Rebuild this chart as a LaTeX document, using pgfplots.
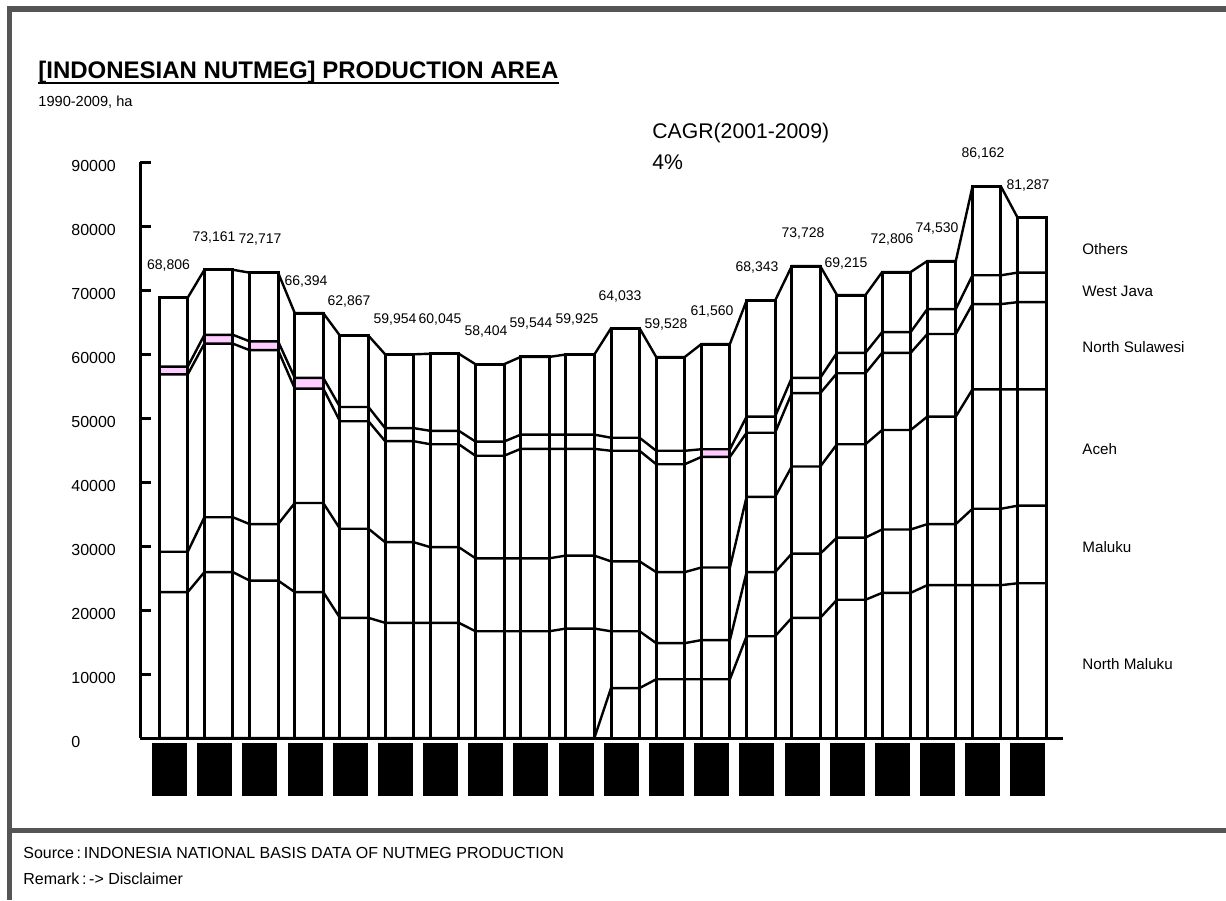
\documentclass[border=0pt]{standalone}
\usepackage{fontspec}
\setmainfont{Liberation Sans}
\usepackage{pgfplots}
\usepackage{pgfplotstable}
\pgfplotsset{compat=1.18}
\definecolor{framegray}{RGB}{85,85,85}
\definecolor{pinkc}{RGB}{255,204,255}

% segment values (ha) per region, each year given twice (left / right edge of its bar)
\pgfplotstableread{
i  s  nm    mal   ace   nsu   wj   oth   pk
0  -1 0     22800 6300  27720 1200 10786 1
0  1  0     22800 6300  27720 1200 10786 1
1  -1 0     25920 8580  27120 1380 10161 1
1  1  0     25920 8580  27120 1380 10161 1
2  -1 0     24600 8820  27180 1380 10737 1
2  1  0     24600 8820  27180 1380 10737 1
3  -1 0     22800 13920 17880 1680 10114 1
3  1  0     22800 13920 17880 1680 10114 1
4  -1 0     18780 13920 16800 2220 11147 0
4  1  0     18780 13920 16800 2220 11147 0
5  -1 0     18000 12600 15780 2040 11534 0
5  1  0     18000 12600 15780 2040 11534 0
6  -1 0     18000 11820 16080 2100 12045 0
6  1  0     18000 11820 16080 2100 12045 0
7  -1 0     16680 11400 16020 2220 12084 0
7  1  0     16680 11400 16020 2220 12084 0
8  -1 0     16680 11400 17100 2220 12144 0
8  1  0     16680 11400 17100 2220 12144 0
9  -1 0     17100 11400 16680 2220 12525 0
9  1  0     17100 11400 16680 2220 12525 0
10 -1 7800  8880  10920 17280 2040 17113 0
10 1  7800  8880  10920 17280 2040 17113 0
11 -1 9180  5640  11100 16860 2100 14648 0
11 1  9180  5640  11100 16860 2100 14648 0
12 -1 9180  6120  11340 17280 1200 16440 1
12 1  9180  6120  11340 17280 1200 16440 1
13 -1 15900 10020 11760 10020 2520 18123 0
13 1  15900 10020 11760 10020 2520 18123 0
14 -1 18780 10020 13620 11460 2400 17448 0
14 1  18780 10020 13620 11460 2400 17448 0
15 -1 21600 9720  14580 11100 3180 9035  0
15 1  21600 9720  14580 11100 3180 9035  0
16 -1 22680 9900  15540 12060 3240 9386  0
16 1  22680 9900  15540 12060 3240 9386  0
17 -1 23880 9540  16800 12900 3900 7510  0
17 1  23880 9540  16800 12900 3900 7510  0
18 -1 23880 11940 18660 13320 4500 13862 0
18 1  23880 11940 18660 13320 4500 13862 0
19 -1 24180 12120 18180 13620 4620 8567  0
19 1  24180 12120 18180 13620 4620 8567  0
}\data

\begin{document}
\begin{tikzpicture}
\path[use as bounding box] (0,0) rectangle (613pt,-450pt);
\begin{scope}[x=0.5pt,y=-0.5pt]
  % frame
  \fill[framegray] (7,6) rectangle (1226,12);
  \fill[framegray] (7,6) rectangle (12,900);
  \fill[framegray] (7,828) rectangle (1226,833);
  % title
  \node[anchor=base west, inner sep=0pt, font=\fontsize{12}{14}\selectfont\bfseries] (T) at (38,78) {[INDONESIAN NUTMEG] PRODUCTION AREA};
  \draw[line width=1pt] ([yshift=-2.6pt]T.base west) -- ([yshift=-2.6pt]T.base east);
  \node[anchor=west, inner sep=0pt, font=\fontsize{7.3}{9}\selectfont] at (38,102) {1990-2009, ha};
  % CAGR
  \node[anchor=west, inner sep=0pt, font=\fontsize{10.6}{12}\selectfont] at (652,133) {CAGR(2001-2009)};
  \node[anchor=west, inner sep=0pt, font=\fontsize{10.6}{12}\selectfont] at (652,162) {4\%};
  % series names
  \begin{scope}[every node/.style={anchor=west, inner sep=0pt, font=\fontsize{7.6}{9}\selectfont}]
    \node at (1082,249) {Others};
    \node at (1082,291) {West Java};
    \node at (1082,347) {North Sulawesi};
    \node at (1082,449) {Aceh};
    \node at (1082,547) {Maluku};
    \node at (1082,664) {North Maluku};
  \end{scope}
  % source
  \node[anchor=west, inner sep=0pt, font=\fontsize{8}{9.6}\selectfont] at (23,853) {Source\,:\,INDONESIA NATIONAL BASIS DATA OF NUTMEG PRODUCTION};
  \node[anchor=west, inner sep=0pt, font=\fontsize{8}{9.6}\selectfont] at (23,879) {Remark\,:\,-> Disclaimer};
\end{scope}

\begin{axis}[
  at={(70pt,-369pt)}, anchor=south west,
  scale only axis, width=461.5pt, height=288pt,
  xmin=-0.741, xmax=19.688, ymin=0, ymax=90000,
  clip=false,
  axis x line*=bottom, axis y line*=left,
  axis line style={line width=1.5pt, black},
  tick align=inside, major tick length=5.5pt,
  xtick={0,...,19},
  xticklabel={\rule{17.5pt}{26.5pt}},
  xtick style={draw=none},
  xticklabel style={anchor=north, inner sep=0pt, yshift=-2.5pt, xshift=-2pt},
  ytick={0,10000,...,90000},
  ytick style={line width=1.5pt, black},
  scaled y ticks=false,
  /pgf/number format/1000 sep={},
  /pgf/number format/assume math mode=true,
  yticklabel style={font=\fontsize{8}{9.6}\selectfont, anchor=west, inner sep=0pt, xshift=-34.5pt, yshift=-2pt},
]
% pink band (West Java in flagged years)
\addplot[ybar, bar width=0.631, bar shift=0pt, fill=pinkc, draw=none]
  table[x=i, y expr=\thisrow{pk}*(\thisrow{nm}+\thisrow{mal}+\thisrow{ace}+\thisrow{nsu}+\thisrow{wj})] {\data};
\addplot[ybar, bar width=0.631, bar shift=0pt, fill=white, draw=none]
  table[x=i, y expr=\thisrow{pk}*(\thisrow{nm}+\thisrow{mal}+\thisrow{ace}+\thisrow{nsu})] {\data};
% bar outlines (totals)
\addplot[ybar, bar width=0.631, bar shift=0pt, fill=none, draw=black, line width=1.5pt]
  table[x=i, y expr=\thisrow{nm}+\thisrow{mal}+\thisrow{ace}+\thisrow{nsu}+\thisrow{wj}+\thisrow{oth}] {\data};
% series lines (cumulative boundaries)
\addplot[black, line width=1.2pt, mark=none]
  table[x expr=\thisrow{i}+0.3155*\thisrow{s}, y expr=\thisrow{nm}] {\data};
\addplot[black, line width=1.2pt, mark=none]
  table[x expr=\thisrow{i}+0.3155*\thisrow{s}, y expr=\thisrow{nm}+\thisrow{mal}] {\data};
\addplot[black, line width=1.2pt, mark=none]
  table[x expr=\thisrow{i}+0.3155*\thisrow{s}, y expr=\thisrow{nm}+\thisrow{mal}+\thisrow{ace}] {\data};
\addplot[black, line width=1.2pt, mark=none]
  table[x expr=\thisrow{i}+0.3155*\thisrow{s}, y expr=\thisrow{nm}+\thisrow{mal}+\thisrow{ace}+\thisrow{nsu}] {\data};
\addplot[black, line width=1.2pt, mark=none]
  table[x expr=\thisrow{i}+0.3155*\thisrow{s}, y expr=\thisrow{nm}+\thisrow{mal}+\thisrow{ace}+\thisrow{nsu}+\thisrow{wj}] {\data};
\addplot[black, line width=1.2pt, mark=none]
  table[x expr=\thisrow{i}+0.3155*\thisrow{s}, y expr=\thisrow{nm}+\thisrow{mal}+\thisrow{ace}+\thisrow{nsu}+\thisrow{wj}+\thisrow{oth}] {\data};
% totals
\begin{scope}[every node/.style={inner sep=0pt, font=\fontsize{7}{8.4}\selectfont}]
\node at (axis cs:-0.11,73906) {68,806};
\node at (axis cs:0.896,78281) {73,161};
\node at (axis cs:1.915,77969) {72,717};
\node at (axis cs:2.933,71406) {66,394};
\node at (axis cs:3.885,68281) {62,867};
\node at (axis cs:4.903,65469) {59,954};
\node at (axis cs:5.899,65469) {60,045};
\node at (axis cs:6.917,63594) {58,404};
\node at (axis cs:7.913,64844) {59,544};
\node at (axis cs:8.931,65469) {59,925};
\node at (axis cs:9.883,69063) {64,033};
\node at (axis cs:10.901,64688) {59,528};
\node at (axis cs:11.919,66719) {61,560};
\node at (axis cs:12.915,73594) {68,343};
\node at (axis cs:13.933,78906) {73,728};
\node at (axis cs:14.885,74219) {69,215};
\node at (axis cs:15.903,77969) {72,806};
\node at (axis cs:16.899,79688) {74,530};
\node at (axis cs:17.917,91406) {86,162};
\node at (axis cs:18.913,86406) {81,287};
\end{scope}
\end{axis}
\end{tikzpicture}
\end{document}
